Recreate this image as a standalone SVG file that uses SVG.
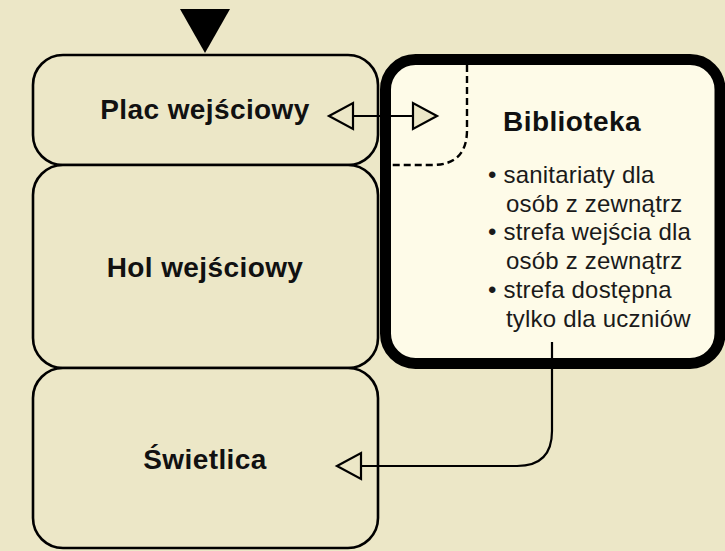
<svg xmlns="http://www.w3.org/2000/svg" width="725" height="551" viewBox="0 0 725 551">
<style>
.box{fill:#ECE7C7;stroke:#000;stroke-width:2.6}
.lib{fill:#FEFBE8;stroke:#000;stroke-width:11}
.title{font-family:"Liberation Sans",Arial,sans-serif;font-weight:bold;font-size:28px;letter-spacing:0.4px;fill:#111;text-anchor:middle}
.item{font-family:"Liberation Sans",Arial,sans-serif;font-size:24px;fill:#1a1a1a;letter-spacing:0.2px}
.conn{fill:none;stroke:#000;stroke-width:2.2}
.head{fill:#ECE7C7;stroke:#000;stroke-width:2.2;stroke-linejoin:miter}
</style>
<rect width="725" height="551" fill="#ECE7C7"/>
<g id="node-plac">
<rect class="box" x="33" y="55" width="345" height="110" rx="30"/>
<text class="title" x="205" y="119">Plac wejściowy</text>
</g>
<g id="node-hol">
<rect class="box" x="33" y="165" width="345" height="203" rx="30"/>
<text class="title" x="205" y="277">Hol wejściowy</text>
</g>
<g id="node-swietlica">
<rect class="box" x="33" y="368" width="345" height="180" rx="30"/>
<text class="title" x="205" y="469">Świetlica</text>
</g>
<g id="node-biblioteka">
<rect class="lib" x="385.5" y="59.5" width="334.5" height="304" rx="30"/>
<path d="M467,65 V130 Q467,165 432,165 H391" fill="none" stroke="#000" stroke-width="2.4" stroke-dasharray="7,4"/>
<text class="title" x="572" y="131">Biblioteka</text>
<text class="item" x="488" y="183">• sanitariaty dla</text>
<text class="item" x="506" y="212">osób z zewnątrz</text>
<text class="item" x="488" y="240">• strefa wejścia dla</text>
<text class="item" x="506" y="269">osób z zewnątrz</text>
<text class="item" x="488" y="298">• strefa dostępna</text>
<text class="item" x="506" y="327">tylko dla uczniów</text>
</g>
<g id="connectors">
<polygon points="180,9 230,9 205,53" fill="#000"/>
<line class="conn" x1="353" y1="116" x2="413" y2="116"/>
<polygon class="head" points="329,116 353,103 353,129"/>
<polygon class="head" points="437,116 413,103 413,129"/>
<path class="conn" d="M552,342 V431 Q552,466 517,466 H361"/>
<polygon class="head" points="337,466 361,453 361,479"/>
</g>
</svg>
